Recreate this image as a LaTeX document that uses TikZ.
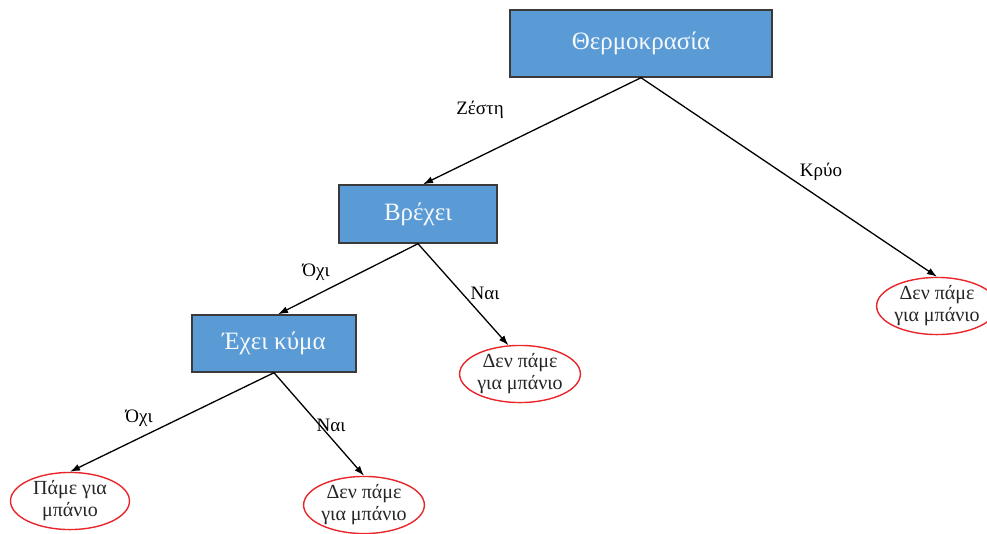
\documentclass[tikz,border=0pt]{standalone}
\usepackage{fontspec}
\setmainfont{Liberation Serif}
\usepackage{tikz}
\usetikzlibrary{arrows.meta,positioning,shapes.geometric}
\definecolor{boxBlue}{HTML}{5B9BD5}
\definecolor{boxEdge}{HTML}{3A3A3A}
\definecolor{leafRed}{HTML}{E8262B}
\definecolor{leafText}{HTML}{262626}
\tikzset{
  kombos/.style={draw=boxEdge, line width=1.4pt, fill=boxBlue, text=white!94!boxBlue, font=\fontsize{25}{30}\selectfont, minimum width=#1, inner sep=0pt},
  fyllo/.style={ellipse, draw=leafRed, line width=1.4pt, fill=white, text=leafText, align=center, font=\fontsize{20}{22}\selectfont, minimum width=119pt, minimum height=57pt, inner sep=0pt},
  akmi/.style={font=\fontsize{19}{22}\selectfont, inner sep=0pt},
  arrflow/.style={-{Latex[length=10pt,width=7pt]}, line width=1.3pt},
}
\begin{document}
\begin{tikzpicture}[x=1pt,y=-1pt]
\useasboundingbox (0,0) rectangle (987,533);
% nodes
\node[kombos=262pt, minimum height=67pt] (therm) at (641,43.5) {Θερμοκρασία};
\node[kombos=158pt, minimum height=58pt] (vrexei) at (418,214) {Βρέχει};
\node[kombos=164pt, minimum height=57pt] (kyma) at (274,343.5) {Έχει κύμα};
\node[fyllo] (krio) at (937,306) {Δεν πάμε\\για μπάνιο};
\node[fyllo] (nai1) at (520,374) {Δεν πάμε\\για μπάνιο};
\node[fyllo] (pame) at (70,501) {Πάμε για\\μπάνιο};
\node[fyllo] (nai2) at (364,505) {Δεν πάμε\\για μπάνιο};
% edges
\draw[arrflow] (therm.south) -- ([xshift=5pt]vrexei.north);
\draw[arrflow] (therm.south) -- (krio.north);
\draw[arrflow] (vrexei.south) -- ([xshift=4pt]kyma.north);
\draw[arrflow] (vrexei.south) -- (nai1.112);
\draw[arrflow] (kyma.south) -- (pame.north);
\draw[arrflow] (kyma.south) -- (nai2.north);
% labels
\node[akmi] (lZesti) at (480,110) {Ζέστη};
\node[akmi] (lKrio) at (821,172) {Κρύο};
\node[akmi] (lOxi1) at (316,272) {Όχι};
\node[akmi] (lNai1) at (485,293) {Ναι};
\node[akmi] (lOxi2) at (139,418) {Όχι};
\node[akmi] (lNai2) at (331,425) {Ναι};
\end{tikzpicture}
\end{document}
